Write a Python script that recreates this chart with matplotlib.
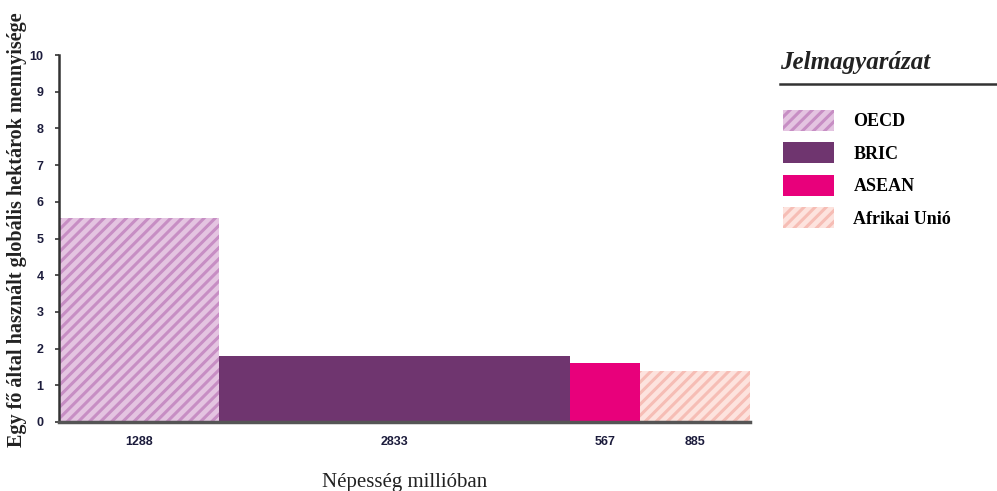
import matplotlib.pyplot as plt
from matplotlib.lines import Line2D
import numpy as np

groups = ["OECD", "BRIC", "ASEAN", "Afrikai Unió"]
population = [1288, 2833, 567, 885]
footprint = [5.55, 1.8, 1.6, 1.38]
y_ticks = [0, 1, 2, 3, 4, 5, 6, 7, 8, 9, 10]

face_colors = ["#e4c4e1", "#6f356f", "#e8007b", "#fde3de"]
hatch_colors = ["#c78ec4", "#6f356f", "#e8007b", "#f6bdb5"]
hatches = ["///", "", "", "///"]

plt.rcParams['hatch.linewidth'] = 2.2

fig = plt.figure(figsize=(9.97, 4.91), dpi=100)
ax = fig.add_axes([59/997, 69/491, 691/997, 367/491])

lefts = np.concatenate([[0], np.cumsum(population)[:-1]])
bars = []
for i in range(len(groups)):
	b = ax.bar(lefts[i], footprint[i], width=population[i], align='edge',
		color=face_colors[i], edgecolor=hatch_colors[i], hatch=hatches[i],
		linewidth=0, label=groups[i])
	bars.append(b)

ax.set_xlim(0, sum(population))
ax.set_ylim(0, 10)
ax.set_yticks(y_ticks)
ax.set_yticklabels([str(t) for t in y_ticks], fontsize=9, fontweight='bold',
	family='Liberation Sans', color='#1c1c3c')
centers = lefts + np.array(population) / 2
ax.set_xticks(centers)
ax.set_xticklabels([str(p) for p in population], fontsize=9, fontweight='bold',
	family='Liberation Sans', color='#1c1c3c')
ax.tick_params(axis='x', length=0, pad=10)
ax.tick_params(axis='y', length=3, width=1.2, color='#333333', pad=8)

for side in ['top', 'right']:
	ax.spines[side].set_visible(False)
ax.spines['left'].set_linewidth(1.8)
ax.spines['left'].set_color('#333333')
ax.spines['bottom'].set_linewidth(2.5)
ax.spines['bottom'].set_color('#555555')

ax.set_ylabel("Egy fő által használt globális hektárok mennyisége", family='Liberation Serif',
	fontsize=14.5, fontweight='bold', color='#222222')
ax.yaxis.set_label_coords(-0.046, 0.525)
ax.set_xlabel("Népesség millióban", family='Liberation Serif', fontsize=15,
	color='#222222', labelpad=18)

# legend
fig.text(780/997, 1 - 62/491, "Jelmagyarázat", family='Liberation Serif', style='italic',
	fontweight='bold', fontsize=18, color='#222222', va='center', ha='left')
fig.add_artist(Line2D([780/997, 1.0], [1 - 84/491, 1 - 84/491], color='#333333',
	linewidth=1.8, transform=fig.transFigure))
fig.legend(handles=[b.patches[0] for b in bars], labels=groups, loc='upper left',
	bbox_to_anchor=(774/997, 1 - 101/491), frameon=False, borderpad=0,
	handlelength=2.8, handleheight=1.4, labelspacing=0.64, handletextpad=1.1,
	prop={'family': 'Liberation Serif', 'weight': 'bold', 'size': 13})

plt.savefig("out.png", dpi=100)
